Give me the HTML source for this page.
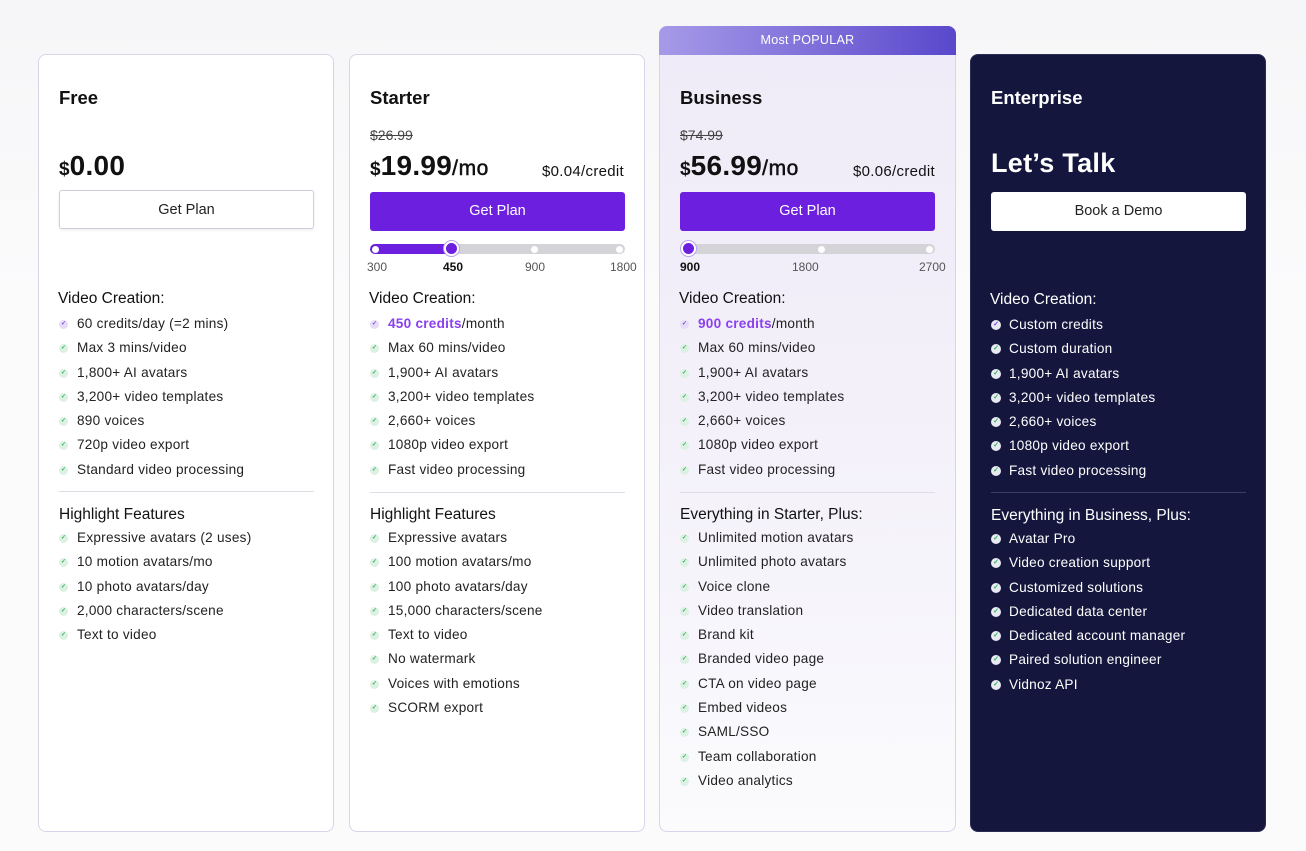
<!DOCTYPE html>
<html><head><meta charset="utf-8"><style>
*{box-sizing:border-box;margin:0;padding:0}
body{width:1306px;height:851px;background:linear-gradient(#f6f6f8,#fbfbfc 300px,#fbfbfc);font-family:"Liberation Sans",sans-serif;color:#111;position:relative;overflow:hidden}
.card{position:absolute;top:54px;width:296px;height:778px;border:1px solid #d8d5ea;border-radius:8px;background:#fff}
.card>*{position:absolute}
.t{left:20px;top:32px;font-size:18.5px;font-weight:bold;line-height:22px}
.s{left:20px;top:70px;font-size:14px;line-height:20px;color:#444;text-decoration:line-through}
.p{left:20px;top:94px;line-height:34px;font-weight:bold;white-space:nowrap}
.p .d{font-size:19px}.p .n{font-size:28px;letter-spacing:.3px}.p .m{font-size:21px;font-weight:normal;-webkit-text-stroke:.5px #111;letter-spacing:.6px}
.pc{right:20px;top:107px;font-size:15px;line-height:20px;letter-spacing:.3px}
.b{left:20px;width:255px;height:39px;border-radius:3px;text-align:center;line-height:39px;font-size:14.5px}
.bp{background:#6d1fe0;color:#fff;top:136px}
.bo{border:1px solid #cfcde0;color:#222;top:135px;box-shadow:0 1px 3px rgba(0,0,0,.08)}
.tr{left:20px;top:189px;width:255px;height:10px;border-radius:5px;background:#d3d3d8}
.dot{position:absolute;top:2px;width:7px;height:7px;border-radius:50%;background:#fff}
.knob{position:absolute;top:-3px;width:15px;height:15px;border-radius:50%;background:#6d1fe0;border:2px solid #fff;box-shadow:0 0 0 1px #b9a0f0}
.lb{top:205px;font-size:12px;line-height:14px;color:#555}
.h{left:19px;font-size:15.5px;line-height:20px}
ul{left:20px;width:270px;list-style:none}
li{height:24.3px;line-height:24.3px;font-size:13.6px;padding-left:18px;position:relative;color:#222;white-space:nowrap;letter-spacing:.25px}
li:before{content:"✓";position:absolute;left:0;top:8px;width:9px;height:9px;border-radius:50%;background:#dcf1e2;color:#2bb35a;font-size:6px;line-height:9px;text-align:center;font-weight:bold;letter-spacing:0}
li.pu:before{background:#e6dcf7;color:#7a3de0}
.hr{left:20px;width:255px;height:1px;background:#dedde6;top:436px}
.pl{color:#8a3ff0;font-weight:bold}
.ent{background:#14163d;color:#fff;border-color:#2a2c55}
.ent li{color:#fff}
.ent li:before{background:#e9e9f2;color:#2bb35a;width:10px;height:10px;top:7px;font-size:7px;line-height:10px}
.ent li.pu:before{color:#7a3de0}
.ent .hr{background:#3b3d63}
</style></head><body>

<div class="card" style="left:38px">
<div class="t">Free</div>
<div class="p" style="top:94px"><span class="d">$</span><span class="n">0.00</span></div>
<div class="b bo">Get Plan</div>
<div class="h" style="top:234px">Video Creation:</div>
<ul style="top:257px">
<li class="pu">60 credits/day (=2 mins)</li><li>Max 3 mins/video</li><li>1,800+ AI avatars</li><li>3,200+ video templates</li><li>890 voices</li><li>720p video export</li><li>Standard video processing</li></ul>
<div class="hr"></div>
<div class="h" style="top:450px;left:20px">Highlight Features</div>
<ul style="top:471px">
<li>Expressive avatars (2 uses)</li><li>10 motion avatars/mo</li><li>10 photo avatars/day</li><li>2,000 characters/scene</li><li>Text to video</li></ul>
</div>

<div class="card" style="left:349px">
<div class="t">Starter</div>
<div class="s">$26.99</div>
<div class="p"><span class="d">$</span><span class="n">19.99</span><span class="m">/mo</span></div>
<div class="pc">$0.04/credit</div>
<div class="b bp" style="top:137px">Get Plan</div>
<div class="tr"><div style="position:absolute;left:0;top:0;height:10px;width:82px;background:#6d1fe0;border-radius:5px"></div><div class="dot" style="left:2px"></div><div class="dot" style="left:161px"></div><div class="dot" style="left:246px"></div><div class="knob" style="left:74px"></div></div>
<div class="lb" style="left:17px">300</div><div class="lb" style="left:93px;font-weight:bold;color:#111">450</div><div class="lb" style="left:175px">900</div><div class="lb" style="left:260px">1800</div>
<div class="h" style="top:234px">Video Creation:</div>
<ul style="top:257px">
<li class="pu"><span class="pl">450 credits</span>/month</li><li>Max 60 mins/video</li><li>1,900+ AI avatars</li><li>3,200+ video templates</li><li>2,660+ voices</li><li>1080p video export</li><li>Fast video processing</li></ul>
<div class="hr" style="top:437px"></div>
<div class="h" style="top:450px;left:20px">Highlight Features</div>
<ul style="top:471px">
<li>Expressive avatars</li><li>100 motion avatars/mo</li><li>100 photo avatars/day</li><li>15,000 characters/scene</li><li>Text to video</li><li>No watermark</li><li>Voices with emotions</li><li>SCORM export</li></ul>
</div>

<div style="position:absolute;left:659px;top:26px;width:297px;height:29px;border-radius:8px 8px 0 0;background:linear-gradient(90deg,#a69ae8,#5a48cc);color:#fff;font-size:12.5px;text-align:center;line-height:28px;letter-spacing:.3px">Most POPULAR</div>
<div class="card" style="left:659px;top:55px;height:777px;width:297px;border-top:none;border-radius:0 0 8px 8px;background:linear-gradient(#efebf8,#f4f1fa 400px,#fbfbfd)">
<div class="t">Business</div>
<div class="s">$74.99</div>
<div class="p"><span class="d">$</span><span class="n">56.99</span><span class="m">/mo</span></div>
<div class="pc">$0.06/credit</div>
<div class="b bp" style="top:137px">Get Plan</div>
<div class="tr"><div class="dot" style="left:138px"></div><div class="dot" style="left:246px"></div><div class="knob" style="left:1px"></div></div>
<div class="lb" style="left:20px;font-weight:bold;color:#111">900</div><div class="lb" style="left:132px">1800</div><div class="lb" style="left:259px">2700</div>
<div class="h" style="top:234px">Video Creation:</div>
<ul style="top:257px">
<li class="pu"><span class="pl">900 credits</span>/month</li><li>Max 60 mins/video</li><li>1,900+ AI avatars</li><li>3,200+ video templates</li><li>2,660+ voices</li><li>1080p video export</li><li>Fast video processing</li></ul>
<div class="hr" style="top:437px"></div>
<div class="h" style="top:450px;left:20px">Everything in Starter, Plus:</div>
<ul style="top:471px">
<li>Unlimited motion avatars</li><li>Unlimited photo avatars</li><li>Voice clone</li><li>Video translation</li><li>Brand kit</li><li>Branded video page</li><li>CTA on video page</li><li>Embed videos</li><li>SAML/SSO</li><li>Team collaboration</li><li>Video analytics</li></ul>
</div>

<div class="card ent" style="left:970px">
<div class="t">Enterprise</div>
<div style="left:20px;top:91px;font-size:27px;font-weight:bold;line-height:34px;letter-spacing:.3px">Let’s Talk</div>
<div class="b" style="top:137px;background:#fff;color:#222">Book a Demo</div>
<div class="h" style="top:235px">Video Creation:</div>
<ul style="top:258px">
<li class="pu">Custom credits</li><li>Custom duration</li><li>1,900+ AI avatars</li><li>3,200+ video templates</li><li>2,660+ voices</li><li>1080p video export</li><li>Fast video processing</li></ul>
<div class="hr" style="top:437px"></div>
<div class="h" style="top:451px;left:20px">Everything in Business, Plus:</div>
<ul style="top:472px">
<li>Avatar Pro</li><li>Video creation support</li><li>Customized solutions</li><li>Dedicated data center</li><li>Dedicated account manager</li><li>Paired solution engineer</li><li>Vidnoz API</li></ul>
</div>
</body></html>
